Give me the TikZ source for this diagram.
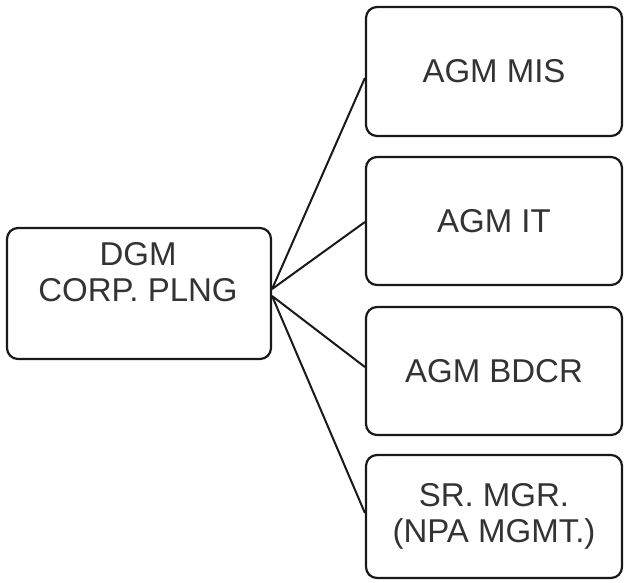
\documentclass[tikz,border=0pt]{standalone}
\usepackage{fontspec}
\setmainfont{Liberation Sans}
\begin{document}
\begin{tikzpicture}[x=1pt,y=-1pt,
  orgbox/.style={draw=black!90, line width=2.2pt, rounded corners=11pt, inner sep=0pt},
  orgtext/.style={text=black!80, font=\fontsize{33}{36}\selectfont, align=center, inner sep=0pt},
  link/.style={draw=black!90, line width=2pt}]
  \useasboundingbox (0,0) rectangle (626,582);

  % boxes
  \node[orgbox, minimum width=264pt, minimum height=131pt] (dgm)  at (139,293.5) {};
  \node[orgbox, minimum width=256pt, minimum height=129pt] (mis)  at (494,71.5) {};
  \node[orgbox, minimum width=256pt, minimum height=128pt] (it)   at (494,221) {};
  \node[orgbox, minimum width=256pt, minimum height=128pt] (bdcr) at (494,371) {};
  \node[orgbox, minimum width=256pt, minimum height=123pt] (npa)  at (494,516.5) {};

  % labels
  \node[orgtext] (dgmlabel) at (138,272) {DGM\\CORP. PLNG};
  \node[orgtext] (mislabel) at (mis.center) {AGM MIS};
  \node[orgtext] (itlabel) at (it.center) {AGM IT};
  \node[orgtext] (bdcrlabel) at (bdcr.center) {AGM BDCR};
  \node[orgtext] (npalabel) at (npa.center) {SR. MGR.\\(NPA MGMT.)};

  % connectors fanning out from the right edge of the DGM box
  \coordinate (hubup) at ([yshift=4.5pt]dgm.east);
  \coordinate (hubdown) at ([yshift=-2.5pt]dgm.east);
  \draw[link] (hubup) -- ([yshift=-6.5pt]mis.west);
  \draw[link] (hubup) -- ([yshift=-1pt]it.west);
  \draw[link] (hubdown) -- ([yshift=4pt]bdcr.west);
  \draw[link] (hubdown) -- ([yshift=3.5pt]npa.west);
\end{tikzpicture}
\end{document}
